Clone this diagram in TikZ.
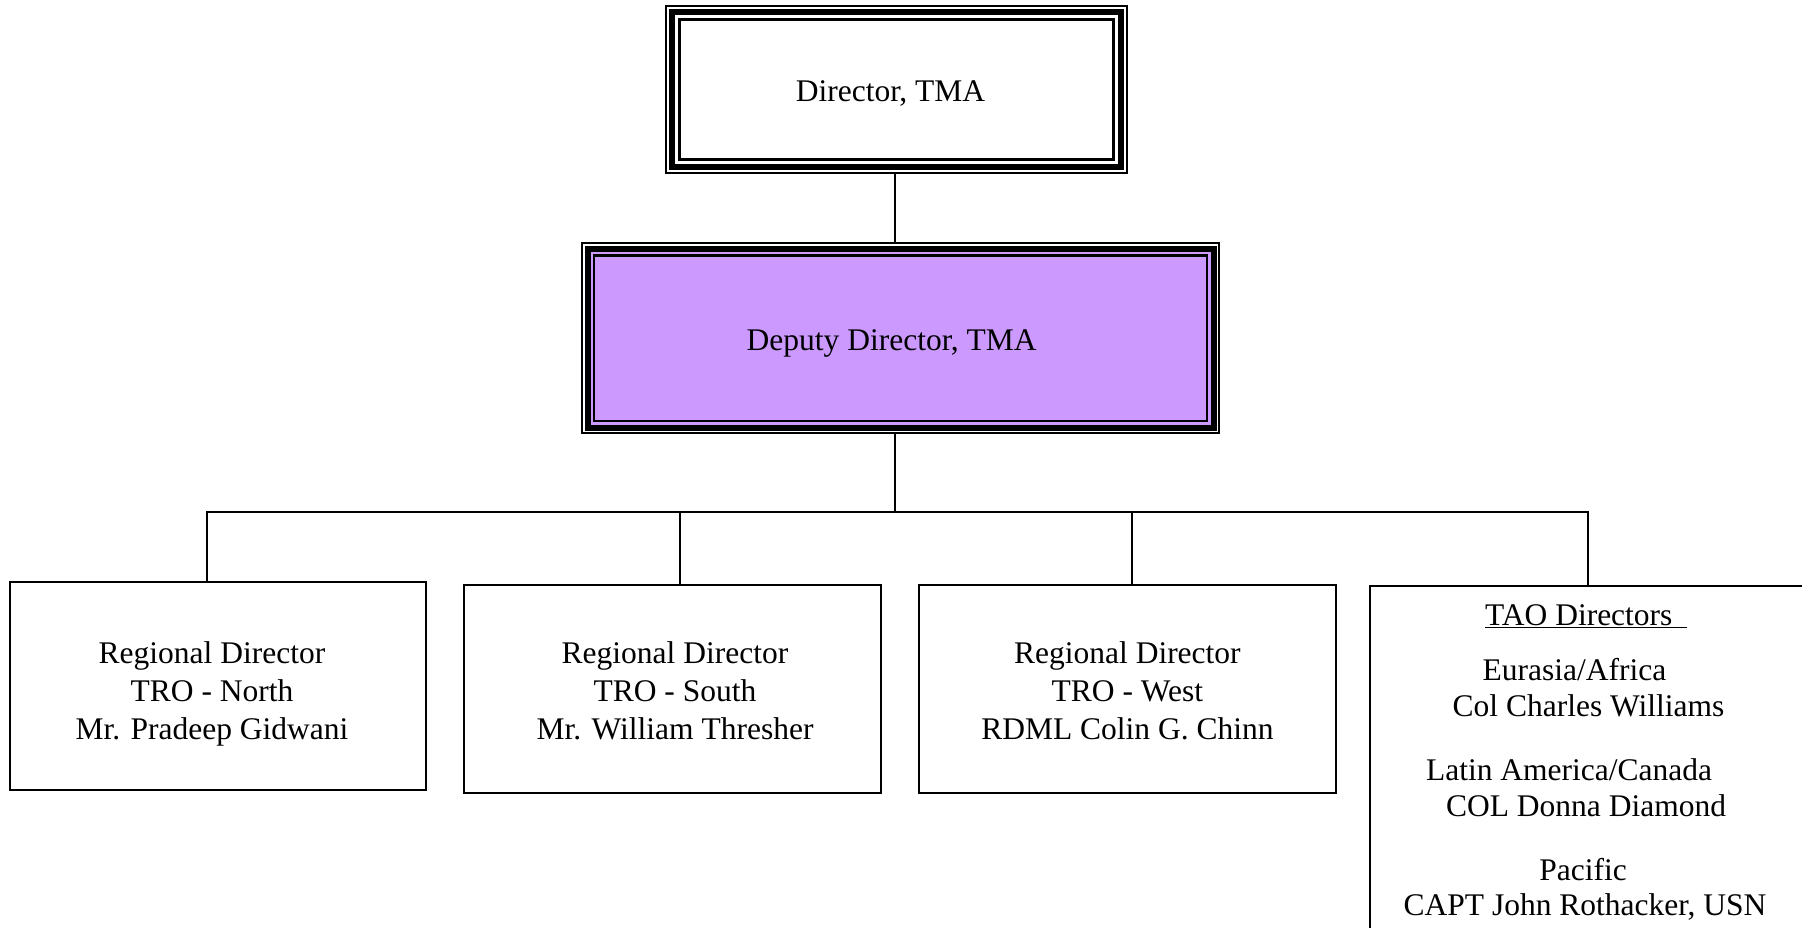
\documentclass[tikz,border=0pt]{standalone}
\usepackage{fontspec}
\setmainfont{Liberation Serif}
\usetikzlibrary{calc}
\definecolor{lav}{RGB}{204,153,255}
\begin{document}
\begin{tikzpicture}[x=1pt,y=-1pt,
  conn/.style={line width=1.8pt, black},
  box/.style={draw, line width=1.8pt, inner sep=0pt, outer sep=0pt, anchor=north west},
  txt/.style={inner sep=0pt, font=\fontsize{31.5}{38.2}\selectfont},
  multi/.style={txt, align=center}]
\useasboundingbox (0,0) rectangle (1802,928);
\fill[white] (0,0) rectangle (1802,928);

% Director box (triple border)
\node[box, line width=2pt, minimum width=461pt, minimum height=167pt] (dir) at (666,6) {};
\draw[line width=6pt] ($(dir.north west)+(6,6)$) rectangle ($(dir.south east)+(-6,-6)$);
\draw[line width=2.5pt] ($(dir.north west)+(13.5,13.5)$) rectangle ($(dir.south east)+(-13.5,-13.5)$);
\node[txt, anchor=base] (dirt) at (890.5,101.7) {Director, TMA};

% Deputy box (triple border, filled)
\node[box, line width=2pt, minimum width=637pt, minimum height=189.5pt] (dep) at (582,243.5) {};
\draw[line width=6pt, fill=lav] ($(dep.north west)+(5.5,5.5)$) rectangle ($(dep.south east)+(-5.5,-5.5)$);
\draw[line width=2.8pt] ($(dep.north west)+(12,12)$) rectangle ($(dep.south east)+(-12,-12)$);
\node[txt, anchor=base] (dept) at (891.7,350) {Deputy Director, TMA};

% Regional boxes
\node[box, minimum width=416pt, minimum height=208pt] (r1) at (10,582) {};
\node[box, minimum width=417pt, minimum height=208pt] (r2) at (464,585) {};
\node[box, minimum width=417pt, minimum height=208pt] (r3) at (919,585) {};
\node[box, minimum width=470pt, minimum height=380pt] (tao) at (1370,586) {};

\node[multi] (r1t) at (212,693.6) {\strut Regional Director\\\strut TRO - North\\\strut Mr. Pradeep Gidwani};
\node[multi] (r2t) at (675,693.6) {\strut Regional Director\\\strut TRO - South\\\strut Mr. William Thresher};
\node[multi] (r3t) at (1127.4,693.6) {\strut Regional Director\\\strut TRO - West\\\strut RDML Colin G. Chinn};

% TAO texts
\node[txt, anchor=base west] (tao0) at (1485,625) {\underline{TAO Directors\hspace{14pt}}};
\node[txt, anchor=base] (tao1) at (1574.5,680) {Eurasia/Africa};
\node[txt, anchor=base] (tao2) at (1588.5,716.7) {Col Charles Williams};
\node[txt, anchor=base] (tao3) at (1569,780) {Latin America/Canada};
\node[txt, anchor=base] (tao4) at (1586,816.7) {COL Donna Diamond};
\node[txt, anchor=base] (tao5) at (1583,880) {Pacific};
\node[txt, anchor=base] (tao6) at (1585,915) {CAPT John Rothacker, USN};

% Connectors
\coordinate (bus) at (894.7,511.7);
\coordinate (bl) at (207,511.7);
\coordinate (br) at (1588,511.7);
\coordinate (c2) at (679.6,511.7);
\coordinate (c3) at (1132,511.7);
\draw[conn] (bus |- dir.south) -- (bus |- dep.north);
\draw[conn] (bus |- dep.south) -- (bus);
\draw[conn] (bl |- r1.north) -- (bl) -- (br) -- (br |- tao.north);
\draw[conn] (c2) -- (c2 |- r2.north);
\draw[conn] (c3) -- (c3 |- r3.north);
\end{tikzpicture}
\end{document}
